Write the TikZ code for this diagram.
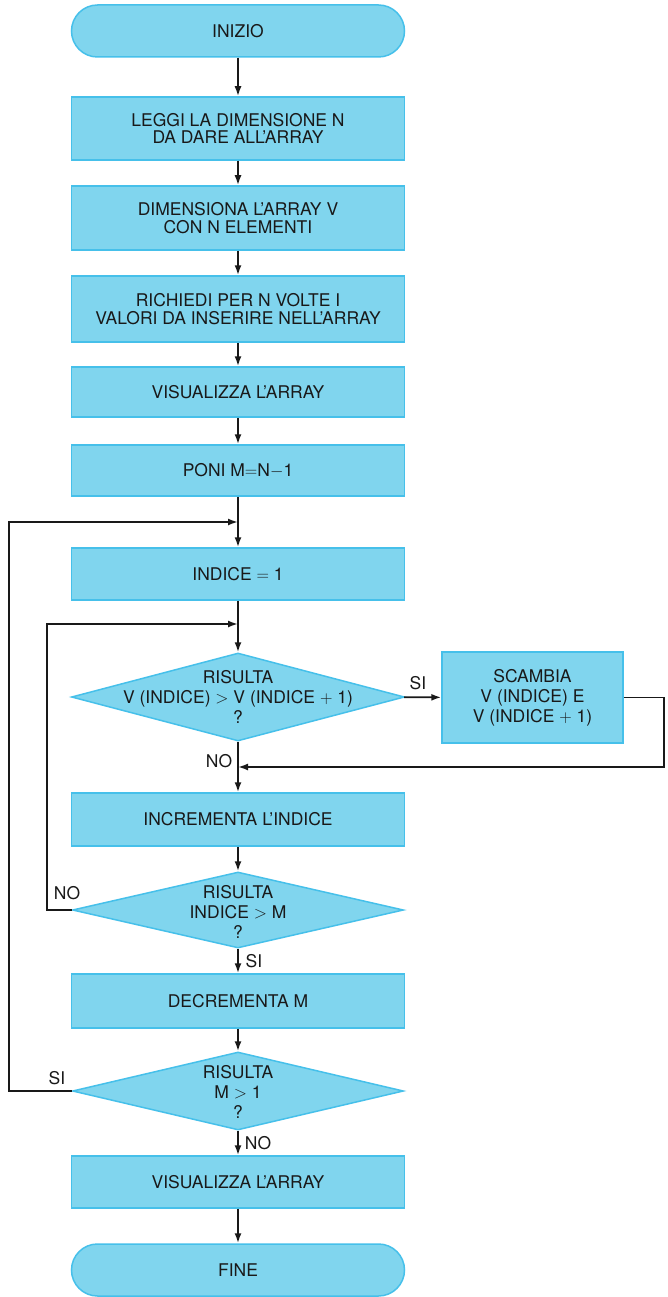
\documentclass[tikz,border=0pt]{standalone}
\usepackage{fontspec}
\setmainfont{TeX Gyre Heros}
\usetikzlibrary{shapes.geometric,arrows.meta}
\definecolor{cfill}{RGB}{128,213,238}
\definecolor{cline}{RGB}{70,192,234}
\definecolor{ink}{RGB}{25,25,25}
\begin{document}
\begin{tikzpicture}[x=1pt,y=-1pt,
  font=\fontsize{17.5}{17.5}\selectfont,
  blk/.style={rectangle, draw=cline, fill=cfill, line width=1.5pt, minimum width=333pt, align=center, inner sep=0pt, text=ink},
  term/.style={blk, rounded corners=26pt},
  dec/.style={diamond, draw=cline, fill=cfill, line width=1.5pt, inner sep=0pt},
  dtext/.style={align=center, inner sep=0pt, text=ink, font=\fontsize{17.5}{20}\selectfont},
  conn/.style={draw=ink, line width=1.8pt},
  arr/.style={conn, -{Latex[length=10pt,width=7pt]}},
  lbl/.style={text=ink, inner sep=0pt}]
\fill[white] (0,0) rectangle (668,1297);
\useasboundingbox (0,0) rectangle (668,1297);

\node[term, minimum height=52pt] (inizio) at (238,31) {INIZIO};
\node[blk, minimum height=63pt] (leggi) at (238,128.5) {LEGGI LA DIMENSIONE N\\DA DARE ALL’ARRAY};
\node[blk, minimum height=64pt] (dimens) at (238,218) {DIMENSIONA L’ARRAY V\\CON N ELEMENTI};
\node[blk, minimum height=66pt] (richiedi) at (238,309) {RICHIEDI PER N VOLTE I\\VALORI DA INSERIRE NELL’ARRAY};
\node[blk, minimum height=50pt] (vis1) at (238,392) {VISUALIZZA L’ARRAY};
\node[blk, minimum height=51pt] (poni) at (238,470.5) {PONI M$=$N$-$1};
\coordinate (m1) at (238,522);
\node[blk, minimum height=52pt] (indice) at (238,574) {INDICE $=$ 1};
\coordinate (m2) at (238,624);
\node[dec, minimum width=333pt, minimum height=88pt] (d1) at (238,697) {};
\node[dtext] (t1) at (d1) {RISULTA\\V (INDICE) $>$ V (INDICE $+$ 1)\\?};
\node[blk, minimum width=181pt, minimum height=91pt, font=\fontsize{17.5}{20}\selectfont] (sc) at (532.5,697.5) {SCAMBIA\\V (INDICE) E\\V (INDICE $+$ 1)};
\coordinate (m3) at (238,767);
\node[blk, minimum height=53pt] (incr) at (238,819.5) {INCREMENTA L’INDICE};
\node[dec, minimum width=331pt, minimum height=76pt] (d2) at (238,910) {};
\node[dtext] (t2) at (238,912) {RISULTA\\INDICE $>$ M\\?};
\node[blk, minimum height=54pt] (decr) at (238,1001) {DECREMENTA M};
\node[dec, minimum width=331pt, minimum height=78pt] (d3) at (238,1091) {};
\node[dtext] (t3) at (238,1092) {RISULTA\\M $>$ 1\\?};
\node[blk, minimum height=52pt] (vis2) at (238,1182) {VISUALIZZA L’ARRAY};
\node[term, minimum height=52pt] (fine) at (238,1270) {FINE};

\node[lbl] (lsi1) at (418,683) {SI};
\node[lbl] (lno1) at (219,761) {NO};
\node[lbl] (lno2) at (67,893) {NO};
\node[lbl] (lsi2) at (254,961) {SI};
\node[lbl] (lsi3) at (57,1078) {SI};
\node[lbl] (lno3) at (258,1143) {NO};

\draw[arr] (inizio) -- (leggi);
\draw[arr] (leggi) -- (dimens);
\draw[arr] (dimens) -- (richiedi);
\draw[arr] (richiedi) -- (vis1);
\draw[arr] (vis1) -- (poni);
\draw[arr] (poni) -- (indice);
\draw[arr] (indice) -- (d1);
\draw[arr] (d1) -- (sc);
\draw[arr] (sc.east) -- ++(40,0) |- (m3);
\draw[arr] (d1) -- (incr);
\draw[arr] (incr) -- (d2);
\draw[arr] (d2.west) -- ++(-25,0) |- (m2);
\draw[arr] (d2) -- (decr);
\draw[arr] (decr) -- (d3);
\draw[arr] (d3.west) -- ++(-62.5,0) |- (m1);
\draw[arr] (d3) -- (vis2);
\draw[arr] (vis2) -- (fine);
\end{tikzpicture}
\end{document}
